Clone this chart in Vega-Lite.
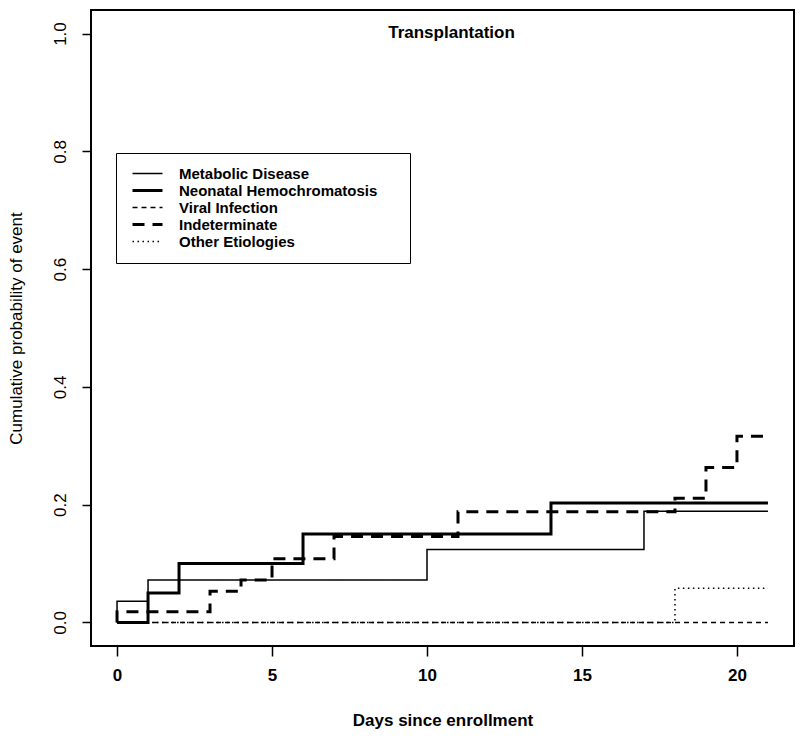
{
  "$schema": "https://vega.github.io/schema/vega-lite/v6.json",
  "width": 703,
  "height": 636,
  "autosize": "none",
  "padding": {"left": 91, "top": 10, "right": 6, "bottom": 98},
  "background": "white",
  "title": {
    "text": "Transplantation",
    "anchor": "middle",
    "frame": "group",
    "offset": -32,
    "dx": 9,
    "font": "Liberation Sans",
    "fontSize": 17,
    "fontWeight": "bold",
    "color": "black"
  },
  "config": {
    "view": {"stroke": "black", "strokeWidth": 2},
    "axis": {"grid": false, "domain": false, "tickColor": "black", "labelColor": "black", "titleColor": "black", "labelFont": "Liberation Sans", "titleFont": "Liberation Sans", "labelFontSize": 17, "titleFontSize": 17, "tickWidth": 1.5}
  },
  "data": {
    "values": [
      {"group": "Metabolic Disease", "t": 0, "p": 0},
      {"group": "Metabolic Disease", "t": 0, "p": 0.036},
      {"group": "Metabolic Disease", "t": 1, "p": 0.072},
      {"group": "Metabolic Disease", "t": 10, "p": 0.124},
      {"group": "Metabolic Disease", "t": 17, "p": 0.189},
      {"group": "Metabolic Disease", "t": 21, "p": 0.189},
      {"group": "Neonatal Hemochromatosis", "t": 0, "p": 0},
      {"group": "Neonatal Hemochromatosis", "t": 1, "p": 0.05},
      {"group": "Neonatal Hemochromatosis", "t": 2, "p": 0.1},
      {"group": "Neonatal Hemochromatosis", "t": 6, "p": 0.15},
      {"group": "Neonatal Hemochromatosis", "t": 14, "p": 0.203},
      {"group": "Neonatal Hemochromatosis", "t": 21, "p": 0.203},
      {"group": "Viral Infection", "t": 0, "p": 0},
      {"group": "Viral Infection", "t": 21, "p": 0},
      {"group": "Indeterminate", "t": 0, "p": 0},
      {"group": "Indeterminate", "t": 0, "p": 0.018},
      {"group": "Indeterminate", "t": 3, "p": 0.053},
      {"group": "Indeterminate", "t": 4, "p": 0.072},
      {"group": "Indeterminate", "t": 5, "p": 0.108},
      {"group": "Indeterminate", "t": 7, "p": 0.146},
      {"group": "Indeterminate", "t": 11, "p": 0.188},
      {"group": "Indeterminate", "t": 18, "p": 0.211},
      {"group": "Indeterminate", "t": 19, "p": 0.263},
      {"group": "Indeterminate", "t": 20, "p": 0.316},
      {"group": "Indeterminate", "t": 21, "p": 0.316},
      {"group": "Other Etiologies", "t": 0, "p": 0},
      {"group": "Other Etiologies", "t": 18, "p": 0.058},
      {"group": "Other Etiologies", "t": 21, "p": 0.058}
    ]
  },
  "mark": {"type": "line", "interpolate": "step-after", "color": "black"},
  "encoding": {
    "x": {
      "field": "t", "type": "quantitative",
      "scale": {"domain": [-0.84, 21.84], "nice": false, "zero": false},
      "axis": {"values": [0, 5, 10, 15, 20], "format": "d", "title": "Days since enrollment", "tickSize": 10, "labelPadding": 11, "labelFontWeight": "bold", "titleFontWeight": "bold", "titlePadding": 29, "labelFlush": false}
    },
    "y": {
      "field": "p", "type": "quantitative",
      "scale": {"domain": [-0.04, 1.04], "nice": false, "zero": false},
      "axis": {"values": [0, 0.2, 0.4, 0.6, 0.8, 1.0], "format": ".1f", "title": "Cumulative probability of event", "tickSize": 9, "labelAngle": 270, "labelAlign": "center", "labelBaseline": "bottom", "labelPadding": 13, "labelFontWeight": "normal", "titleFontWeight": "normal", "titlePadding": 26, "labelFlush": false}
    },
    "order": [{"field": "t", "type": "quantitative"}, {"field": "p", "type": "quantitative"}],
    "strokeDash": {
      "field": "group", "type": "nominal",
      "scale": {
        "domain": ["Metabolic Disease", "Neonatal Hemochromatosis", "Viral Infection", "Indeterminate", "Other Etiologies"],
        "range": [[1, 0], [1, 0], [5, 4], [12, 8], [1.5, 3.5]]
      },
      "legend": {
        "title": " ", "titleOrient": "right", "titleFontSize": 10, "titlePadding": 20, "orient": "none", "legendX": 25, "legendY": 143,
        "symbolType": "stroke", "symbolSize": 900, "symbolStrokeColor": "black", "symbolOffset": 2,
        "labelFont": "Liberation Sans", "labelFontSize": 15, "labelFontWeight": "bold", "labelColor": "black",
        "labelOffset": 15, "labelLimit": 400, "clipHeight": 15,
        "strokeColor": "black", "fillColor": "white", "padding": 13, "rowPadding": 1
      }
    },
    "strokeWidth": {
      "field": "group", "type": "nominal",
      "scale": {
        "type": "ordinal",
        "domain": ["Metabolic Disease", "Neonatal Hemochromatosis", "Viral Infection", "Indeterminate", "Other Etiologies"],
        "range": [1.5, 3, 1.5, 3, 1.5]
      },
      "legend": {
        "title": " ", "titleOrient": "right", "titleFontSize": 10, "titlePadding": 20, "orient": "none", "legendX": 25, "legendY": 143,
        "symbolType": "stroke", "symbolSize": 900, "symbolStrokeColor": "black", "symbolOffset": 2,
        "labelFont": "Liberation Sans", "labelFontSize": 15, "labelFontWeight": "bold", "labelColor": "black",
        "labelOffset": 15, "labelLimit": 400, "clipHeight": 15,
        "strokeColor": "black", "fillColor": "white", "padding": 13, "rowPadding": 1
      }
    }
  }
}
